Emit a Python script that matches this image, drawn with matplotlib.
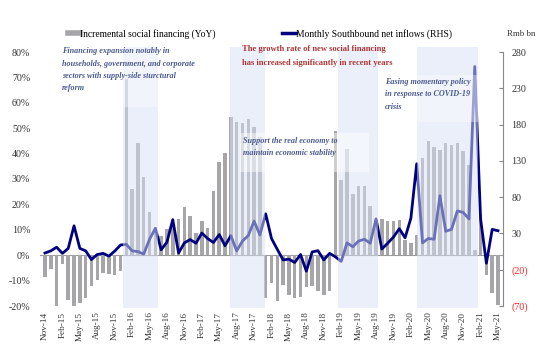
import numpy as np
import pandas as pd
import matplotlib
matplotlib.use('Agg')
import matplotlib.pyplot as plt
from matplotlib.lines import Line2D

plt.rcParams['font.family'] = ['Liberation Serif', 'DejaVu Serif']

# monthly data, Nov-14 .. May-21
months = pd.date_range('2014-11-01', '2021-05-01', freq='MS')
month_labels = [m.strftime('%b-%y') for m in months]

# incremental social financing, YoY %
tsf_yoy = [
    -8.4, -5.3, -20.5, -3.5, -17.5, -20.5, -19.0, -16.7, -12.0, -9.7,
    -7.0, -7.5, -7.7, -6.4, 69.5, 26.0, 44.0, 30.6, 17.0, 11.0,
    7.6, 10.2, 12.0, 14.2, 18.8, 15.5, 8.7, 13.3, 10.9, 25.3,
    36.7, 40.2, 54.3, 52.4, 52.0, 53.6, 50.3, 46.5, -16.8, -10.9,
    -18.0, -11.8, -15.8, -16.8, -16.4, -12.5, -12.2, -14.2, -15.5, -14.2,
    48.8, 29.7, 41.8, 24.0, 27.2, 27.3, 19.5, 14.0, 14.4, 13.5,
    13.6, 14.0, 6.0, 4.9, 8.0, 38.3, 44.8, 42.6, 41.5, 44.2,
    43.5, 44.2, 40.9, 35.6, 2.2, 16.0, -7.7, -14.9, -19.5,
]

# monthly southbound net inflows, Rmb bn (RHS)
southbound = [
    3, 6, 11, 2.5, 9.4, 40.5, 9.4, 6, -6, 1,
    2.5, -1.2, 5.6, 14, 15, 6, 5, 1.5, 22, 37,
    7.5, 18, 49, 3, 17, 21.5, 16.5, 30.5, 23, 17.5,
    28.5, 13, 27, 6, 19.5, 27, 47, 28, 57, 23,
    8, -6.5, -5.5, -10, 1, -22, 4.5, 6.2, -6.5, 2.5,
    -2.2, -8.5, 17, 11.6, 19.5, 22, 16.5, 50, 8.5, 16.5,
    25, 36.5, 24, 51, 126, 17, 23, 22, 82, 33,
    35.6, 61, 59, 50, 260, 50, -11, 35.6, 33.7,
]

# highlighted periods (month index start, end)
periods = [(13.4, 19.4), (31.8, 37.9), (50.4, 57.3), (64.0, 74.6)]

left_ticks = np.arange(-20, 81, 10)
right_ticks = np.arange(-70, 281, 50)

x = np.arange(len(months))

fig = plt.figure(figsize=(5.5, 3.45), dpi=100)
ax = fig.add_axes([40 / 550, 1 - 306 / 345, 463 / 550, 254 / 345])
ax2 = ax.twinx()

ax.bar(x, tsf_yoy, width=0.6, color='#a6a6a8', zorder=2)
ax.axhline(0, color='#9a9a9a', lw=0.8, zorder=1)
ax.set_ylim(-20, 80)
ax.set_yticks(left_ticks)
ax.set_yticklabels([f'{t}%' for t in left_ticks], fontsize=7.2, color='#333333')
ax.set_xlim(-0.86, 78.86)
ax.set_xticks(x[::3])
ax.set_xticklabels(month_labels[::3], rotation=90, fontsize=6.6, color='#333333')
ax.tick_params(axis='both', length=0)
ax.tick_params(axis='x', pad=4)
ax.tick_params(axis='y', pad=7)
for s in ['left', 'right', 'top', 'bottom']:
    ax.spines[s].set_visible(False)

ax2.plot(x, southbound, color='#000080', lw=2, zorder=2)
ax2.set_ylim(-70, 280)
ax2.set_yticks(right_ticks)
ax2.set_yticklabels([f'({-t})' if t < 0 else f'{t}' for t in right_ticks], fontsize=7.2)
for lab, t in zip(ax2.get_yticklabels(), right_ticks):
    lab.set_color('#ff2020' if t < 0 else '#333333')
ax2.tick_params(axis='y', direction='in', length=3, color='#888888', pad=6)
for s in ['left', 'top', 'bottom']:
    ax2.spines[s].set_visible(False)
ax2.spines['right'].set_color('#888888')
ax2.spines['right'].set_linewidth(0.8)

# shaded periods drawn over bars and line
for a, b in periods:
    ax2.axvspan(a, b, ymin=-0.008, ymax=1.02, color='#d6e0f5', alpha=0.5,
                lw=0, zorder=3, clip_on=False)

# lighter boxes behind annotations
ax2.axvspan(periods[0][0], periods[0][1], ymin=0.783, ymax=1.02, color='white',
            alpha=0.35, lw=0, zorder=3.5, clip_on=False)
ax2.axvspan(periods[3][0], periods[3][1], ymin=0.724, ymax=0.909, color='white',
            alpha=0.35, lw=0, zorder=3.5, clip_on=False)
ax2.axvspan(33.6, 55.8, ymin=0.528, ymax=0.681, color='white',
            alpha=0.45, lw=0, zorder=3.5)

blue = '#4a5a8e'
fig.text(62 / 550, 1 - 47 / 345,
         'Financing expansion notably in\nhouseholds, government, and corporate\n'
         'sectors with supply-side sturctural\nreform',
         fontsize=5.9, style='italic', fontweight='bold', color=blue,
         va='top', linespacing=1.75)
fig.text(243 / 550, 1 - 147 / 345,
         'Support the real economy to\nmaintain economic stability',
         fontsize=5.9, style='italic', fontweight='bold', color=blue,
         va='center', linespacing=1.75, zorder=5)
fig.text(385 / 550, 1 - 78 / 345,
         'Easing momentary policy\nin response to COVID-19\ncrisis',
         fontsize=5.9, style='italic', fontweight='bold', color=blue,
         va='top', linespacing=1.75)
fig.text(242 / 550, 1 - 56 / 345,
         'The growth rate of new social financing\nhas increased significantly in recent years',
         fontsize=6.1, fontweight='bold', color='#b03535', va='center', linespacing=1.85)

fig.legend([Line2D([], [], color='#a6a6a8', lw=4)],
           ['Incremental social financing (YoY)'],
           loc='center left', bbox_to_anchor=(68 / 550, 1 - 34 / 345),
           frameon=False, fontsize=6.9, handlelength=1.3, handletextpad=0.0,
           borderpad=0, borderaxespad=0)
fig.legend([Line2D([], [], color='#000080', lw=2.5)],
           ['Monthly Southbound net inflows (RHS)'],
           loc='center left', bbox_to_anchor=(282 / 550, 1 - 34 / 345),
           frameon=False, fontsize=6.9, handlelength=1.5, handletextpad=0.0,
           borderpad=0, borderaxespad=0)
fig.text(507 / 550, 1 - 34 / 345, 'Rmb bn', fontsize=6.3, va='center', color='#333333')

fig.savefig('out.png', dpi=100)
